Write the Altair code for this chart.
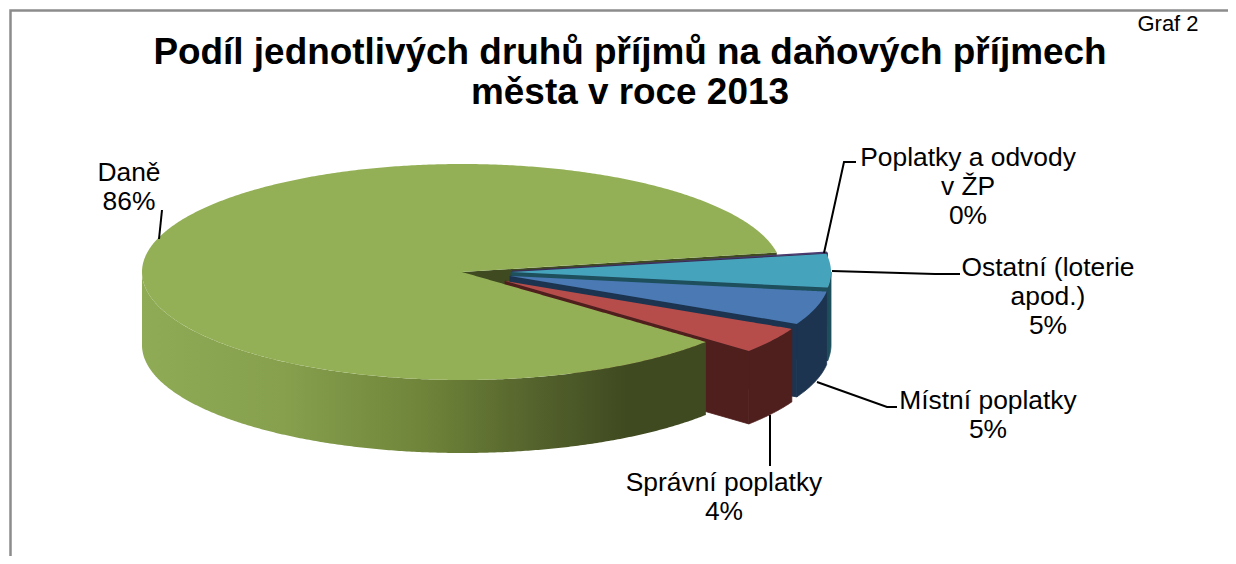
import math
import altair as alt
import pandas as pd

# ---- chart values ----
categories = ["Poplatky a odvody\nv ŽP", "Ostatní (loterie\napod.)", "Místní poplatky", "Správní poplatky", "Daně"]
shares = [0.2, 5.0, 5.0, 3.9, 85.9]
top_colors = ["#4a3a70", "#45a3bc", "#4a79b4", "#b74d4a", "#94b057"]
side_colors = ["#3a2c55", "#1d4f5c", "#1d3450", "#4f1f1e", "#3f4a20"]

title_lines = ["Podíl jednotlivých druhů příjmů na daňových příjmech", "města v roce 2013"]
corner_note = "Graf 2"

# ---- layout (page pixels) ----
W, H = 1220, 548
START = -10.4
RX, RY, DEPTH = 320, 108, 73
apex_x = [512, 511, 510, 505, 462]
apex_y = [271, 272, 276, 281, 272]
label_x = [968, 1048, 988, 724, 129]
label_y = [145, 255, 388, 470, 160]
leaders = [
    [(824, 253), (844, 162), (856, 162)],
    [(832, 271), (935, 274), (960, 274)],
    [(817, 382), (887, 407), (897, 407)],
    [(770, 415), (770, 466)],
    [(159, 239), (162, 210)],
]

xs = alt.Scale(domain=[8, 8 + W])
ys = alt.Scale(domain=[8 + H, 8])


def pt(i, deg):
    a = math.radians(deg)
    return apex_x[i] + RX * math.cos(a), apex_y[i] + RY * math.sin(a)


def sector_rows(i, t0, t1):
    """Convex wedge -> rows of x, y, y2 for an area mark."""
    n = max(2, int(abs(t1 - t0) * 2))
    poly = [(apex_x[i], apex_y[i])] + [pt(i, t0 + (t1 - t0) * k / n) for k in range(n + 1)]
    cuts = sorted({p[0] for p in poly})
    rows = []
    for x in cuts:
        hits = []
        for (ax, ay), (bx, by) in zip(poly, poly[1:] + poly[:1]):
            if min(ax, bx) <= x <= max(ax, bx):
                if ax == bx:
                    hits += [ay, by]
                else:
                    hits.append(ay + (by - ay) * (x - ax) / (bx - ax))
        rows.append({"x": x, "y": min(hits), "y2": max(hits)})
    return rows


def band_rows(points):
    """A curve with x always rising or falling, extruded downward."""
    return [{"x": x, "y": y, "y2": y + DEPTH} for x, y in points]


def area(rows, color, edge=None):
    style = {"stroke": edge, "strokeWidth": 0.8} if edge else {}
    return alt.Chart(pd.DataFrame(rows)).mark_area(color=color, orient="vertical", opacity=1, **style).encode(
        x=alt.X("x:Q", scale=xs, axis=None),
        y=alt.Y("y:Q", scale=ys, axis=None),
        y2="y2:Q",
    )


edges = [START]
for s in shares:
    edges.append(edges[-1] + s * 3.6)

layers = []
green = 4
t0, t1 = edges[green], edges[green + 1]  # lower edge, upper edge of the big slice

# cut face of the big slice seen through the gap
layers.append(area(band_rows([(apex_x[green], apex_y[green]), pt(green, t1)]), side_colors[green]))

# small slices, back to front
for i in range(4):
    a, b = edges[i], edges[i + 1]
    rim_start = max(a, 0)
    if b > rim_start:
        n = max(2, int((b - rim_start) * 2))
        rim = [pt(i, rim_start + (b - rim_start) * k / n) for k in range(n + 1)]
        layers.append(area(band_rows(rim), side_colors[i], side_colors[i]))
    layers.append(area(band_rows([(apex_x[i], apex_y[i]), pt(i, b)]), side_colors[i], side_colors[i]))
    layers.append(area(sector_rows(i, a, b), top_colors[i]))

# big slice: rim with shading, then its top in two convex parts
n = 300
rim = [pt(green, t0 + (180 - t0) * k / n) for k in range(n + 1)]
shade = alt.Gradient(
    gradient="linear", x1=0, x2=1, y1=0, y2=0,
    stops=[
        alt.GradientStop(offset=0, color="#8fab55"),
        alt.GradientStop(offset=0.25, color="#86a04e"),
        alt.GradientStop(offset=0.5, color="#6f8439"),
        alt.GradientStop(offset=0.72, color="#515f2b"),
        alt.GradientStop(offset=0.86, color="#3f4a20"),
        alt.GradientStop(offset=1, color="#3f4a20"),
    ],
)
layers.append(area(band_rows(rim), shade))
layers.append(area(sector_rows(green, t0, 181), top_colors[green]))
layers.append(area(sector_rows(green, 180, t1), top_colors[green]))

# leader lines
leader_rows = [
    {"line": i, "step": k, "x": x, "y": y}
    for i, path in enumerate(leaders)
    for k, (x, y) in enumerate(path)
]
layers.append(
    alt.Chart(pd.DataFrame(leader_rows)).mark_line(color="#000000", strokeWidth=2).encode(
        x=alt.X("x:Q", scale=xs, axis=None),
        y=alt.Y("y:Q", scale=ys, axis=None),
        detail="line:N",
        order="step:Q",
    )
)

# data labels
label_rows = [
    {"text": f"{c}\n{round(s)}%", "x": x, "y": y}
    for c, s, x, y in zip(categories, shares, label_x, label_y)
]
layers.append(
    alt.Chart(pd.DataFrame(label_rows)).mark_text(
        font="Liberation Sans", fontSize=26.4, lineHeight=29, lineBreak="\n",
        align="center", baseline="top", color="#000000",
    ).encode(
        x=alt.X("x:Q", scale=xs, axis=None),
        y=alt.Y("y:Q", scale=ys, axis=None),
        text="text:N",
    )
)

# frame of the chart area
frame = pd.DataFrame([{"x": 10.5, "y": 8 + H}, {"x": 10.5, "y": 10.5}, {"x": W + 8, "y": 10.5}])
frame["step"] = range(3)
layers.append(
    alt.Chart(frame).mark_line(color="#8c8c8c", strokeWidth=2.5).encode(
        x=alt.X("x:Q", scale=xs, axis=None),
        y=alt.Y("y:Q", scale=ys, axis=None),
        order="step:Q",
    )
)

# note in the top corner (the page margin leaves no room above the frame)
layers.append(
    alt.Chart(pd.DataFrame([{"text": corner_note, "x": 1168, "y": 14}])).mark_text(
        font="Liberation Sans", fontSize=22, align="center", baseline="top", color="#000000",
    ).encode(
        x=alt.X("x:Q", scale=xs, axis=None),
        y=alt.Y("y:Q", scale=ys, axis=None),
        text="text:N",
    )
)

chart = alt.layer(*layers).properties(
    width=W,
    height=H,
    padding=0,
    autosize=alt.AutoSizeParams(type="none"),
    title=alt.TitleParams(
        text=title_lines,
        font="Liberation Sans",
        fontSize=36.9,
        fontWeight="bold",
        color="#000000",
        anchor="start",
        frame="group",
        align="center",
        lineHeight=40,
        dx=622,
        dy=110,
    ),
).configure_view(stroke=None)

chart.save("out.html", embed_options={"renderer": "svg", "actions": False})
